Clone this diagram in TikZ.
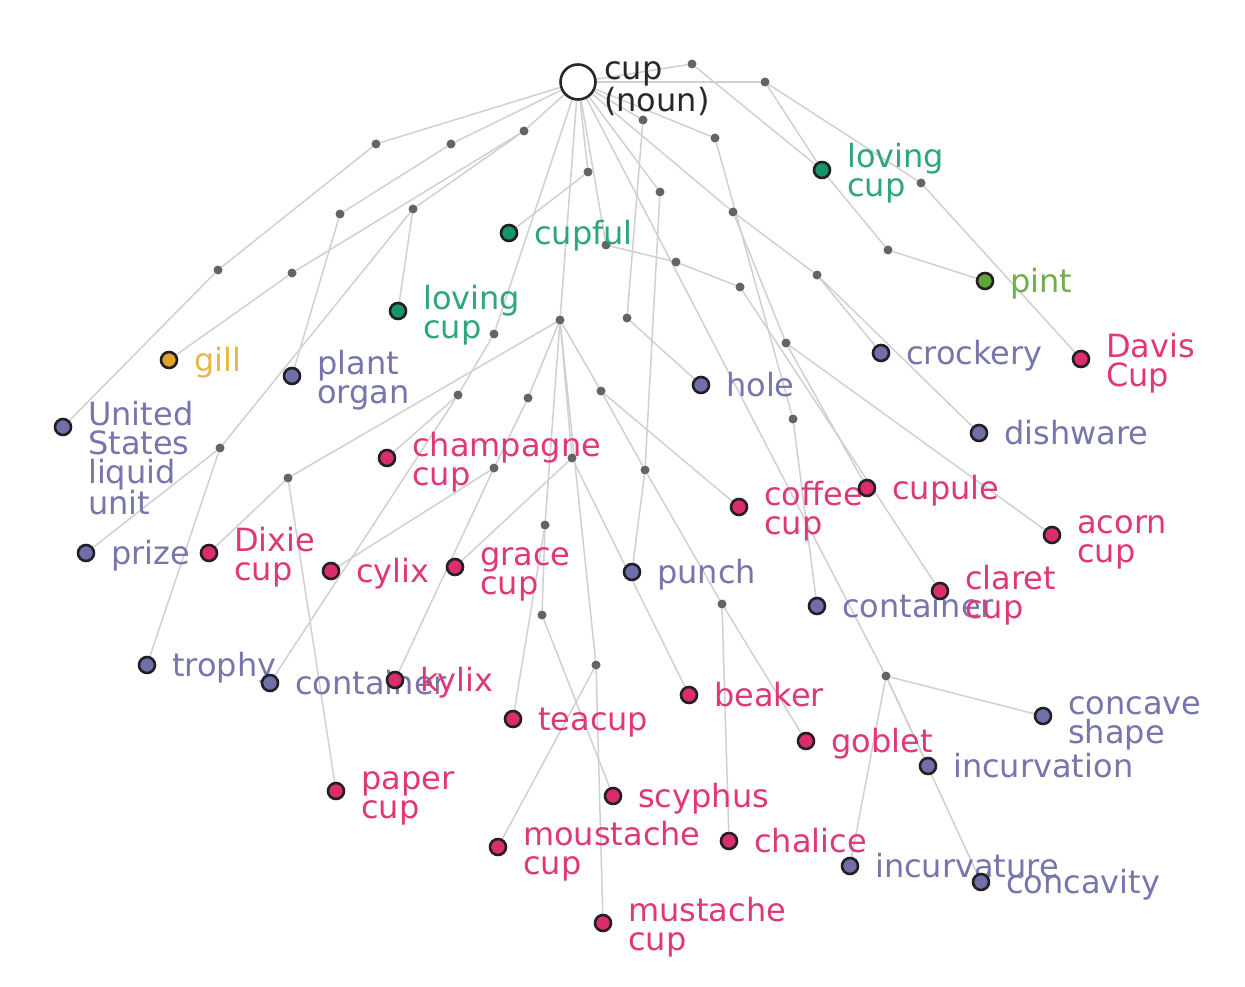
\documentclass[tikz,border=0pt]{standalone}
\usepackage{fontspec}
\setmainfont{DejaVu Sans}
\usetikzlibrary{backgrounds}
\definecolor{edgec}{RGB}{208,208,208}
\definecolor{gdotc}{RGB}{100,100,100}
\definecolor{rimc}{RGB}{35,30,40}
\definecolor{rootc}{RGB}{40,40,40}
\definecolor{pkfill}{RGB}{218,45,105}
\definecolor{pktext}{RGB}{224,55,120}
\definecolor{pufill}{RGB}{112,112,168}
\definecolor{putext}{RGB}{118,118,172}
\definecolor{grfill}{RGB}{22,150,100}
\definecolor{grtext}{RGB}{45,165,125}
\definecolor{lgfill}{RGB}{95,165,60}
\definecolor{lgtext}{RGB}{110,175,75}
\definecolor{ylfill}{RGB}{222,165,40}
\definecolor{yltext}{RGB}{232,182,70}
\newcommand\twol[2]{\vtop{\hbox{#1}\hbox{#2}}}
\newcommand\fourl[4]{\vtop{\hbox{#1}\hbox{#2}\hbox{#3}\hbox{#4}}}
% single-line word: name, x, y, colour key, text
\newcommand\wone[5]{%
  \node[wdot, fill=#4fill] (#1) at (#2,#3) {};
  \node[lab, text=#4text] (#1-l) at (#2+25,#3+11) {#5};}
% multi-line word
\newcommand\wmul[5]{%
  \node[wdot, fill=#4fill] (#1) at (#2,#3) {};
  \node[lab, text=#4text] (#1-l) at (#2+25,#3-2) {#5};}
\begin{document}
\begin{tikzpicture}[x=1pt,y=-1pt,
  gdot/.style={circle, fill=gdotc, minimum size=9pt, inner sep=0pt},
  wdot/.style={circle, draw=rimc, line width=2.6pt, minimum size=16pt, inner sep=0pt},
  lab/.style={anchor=base west, inner sep=0pt, font={\fontsize{32}{29}\selectfont}},
  edge/.style={draw=edgec, line width=1.5pt}]
\useasboundingbox (0,0) rectangle (1245,987);

% root
\node[circle, draw=rootc, line width=2.6pt, minimum size=35pt, inner sep=0pt] (root) at (578,82) {};
\node[lab, text=rootc] (root-l) at (604,80) {\twol{cup}{(noun)}};

% gray junction dots
\node[gdot] (g1) at (692,64) {};
\node[gdot] (g2) at (765,82) {};
\node[gdot] (g3) at (643,120) {};
\node[gdot] (g4) at (715,138) {};
\node[gdot] (g5) at (376,144) {};
\node[gdot] (g6) at (451,144) {};
\node[gdot] (g7) at (524,131) {};
\node[gdot] (g8) at (588,172) {};
\node[gdot] (g9) at (660,192) {};
\node[gdot] (g10) at (733,212) {};
\node[gdot] (g11) at (340,214) {};
\node[gdot] (g12) at (413,209) {};
\node[gdot] (g13) at (606,245) {};
\node[gdot] (g14) at (676,262) {};
\node[gdot] (g15) at (740,287) {};
\node[gdot] (g16) at (888,250) {};
\node[gdot] (g17) at (921,183) {};
\node[gdot] (g18) at (817,275) {};
\node[gdot] (g19) at (218,270) {};
\node[gdot] (g20) at (292,273) {};
\node[gdot] (g21) at (494,334) {};
\node[gdot] (g22) at (560,320) {};
\node[gdot] (g23) at (627,318) {};
\node[gdot] (g24) at (458,395) {};
\node[gdot] (g25) at (528,398) {};
\node[gdot] (g26) at (601,391) {};
\node[gdot] (g27) at (786,343) {};
\node[gdot] (g28) at (793,419) {};
\node[gdot] (g29) at (220,448) {};
\node[gdot] (g30) at (288,478) {};
\node[gdot] (g31) at (494,468) {};
\node[gdot] (g32) at (572,458) {};
\node[gdot] (g33) at (645,470) {};
\node[gdot] (g34) at (545,525) {};
\node[gdot] (g35) at (542,615) {};
\node[gdot] (g36) at (596,665) {};
\node[gdot] (g37) at (722,604) {};
\node[gdot] (g38) at (886,676) {};

% word nodes
\wmul{lcA}{822}{170}{gr}{\twol{loving}{cup}}
\wone{cupful}{509}{233}{gr}{cupful}
\wmul{lcB}{398}{311}{gr}{\twol{loving}{cup}}
\wone{pint}{985}{281}{lg}{pint}
\wone{gill}{169}{360}{yl}{gill}
\wmul{plant}{292}{376}{pu}{\twol{plant}{organ}}
\wmul{us}{63}{427}{pu}{\fourl{United}{States}{liquid}{unit}}
\wone{crock}{881}{353}{pu}{crockery}
\wmul{davis}{1081}{359}{pk}{\twol{Davis}{Cup}}
\wone{hole}{701}{385}{pu}{hole}
\wone{dish}{979}{433}{pu}{dishware}
\wmul{champ}{387}{458}{pk}{\twol{champagne}{cup}}
\wmul{coffee}{739}{507}{pk}{\twol{coffee}{cup}}
\wone{cupule}{867}{488}{pk}{cupule}
\wmul{acorn}{1052}{535}{pk}{\twol{acorn}{cup}}
\wone{prize}{86}{553}{pu}{prize}
\wmul{dixie}{209}{553}{pk}{\twol{Dixie}{cup}}
\wone{cylix}{331}{571}{pk}{cylix}
\wmul{grace}{455}{567}{pk}{\twol{grace}{cup}}
\wone{punch}{632}{572}{pu}{punch}
\wone{contA}{817}{606}{pu}{container}
\wmul{claret}{940}{591}{pk}{\twol{claret}{cup}}
\wone{trophy}{147}{665}{pu}{trophy}
\wone{contB}{270}{683}{pu}{container}
\wone{kylix}{395}{680}{pk}{kylix}
\wone{beaker}{689}{695}{pk}{beaker}
\wone{teacup}{513}{719}{pk}{teacup}
\wmul{concave}{1043}{716}{pu}{\twol{concave}{shape}}
\wone{goblet}{806}{741}{pk}{goblet}
\wone{incurvation}{928}{766}{pu}{incurvation}
\wmul{paper}{336}{791}{pk}{\twol{paper}{cup}}
\wone{scyphus}{613}{796}{pk}{scyphus}
\wmul{moust}{498}{847}{pk}{\twol{moustache}{cup}}
\wone{chalice}{729}{841}{pk}{chalice}
\wone{incurvature}{850}{866}{pu}{incurvature}
\wone{concavity}{981}{882}{pu}{concavity}
\wmul{must}{603}{923}{pk}{\twol{mustache}{cup}}

\begin{scope}[on background layer]
\foreach \a/\b in {root/g1, root/g2, root/g3, root/g4, root/g5, root/g6, root/g7,
  root/g8, root/g9, root/g10, root/g13, root/g21, root/g22, root/g38,
  g1/lcA, lcA/g16, g16/pint, g2/lcA, g2/g17, g17/davis,
  g3/g23, g23/hole, g4/g28, g28/contA,
  g10/g27, g27/cupule, g27/acorn, g10/g18, g18/crock, g18/dish,
  g13/g14, g14/g15, g15/claret,
  g5/g19, g19/us, g6/g11, g11/plant, g7/g20, g20/gill,
  g7/g12, g12/lcB, g12/g29, g29/prize, g29/trophy,
  g8/cupful, g21/g24, g24/champ, g24/contB,
  g22/g25, g22/g26, g22/g30, g22/g32, g22/g34, g22/g36,
  g25/g31, g31/cylix, g31/kylix, g30/dixie, g30/paper,
  g32/grace, g32/beaker, g34/teacup, g34/g35, g35/scyphus,
  g36/must, g36/moust,
  g26/coffee, g26/g33, g9/g33, g33/punch, g33/g37, g37/chalice, g37/goblet,
  g38/concave, g38/incurvation, g38/concavity, g38/incurvature}
  \draw[edge] (\a) -- (\b);
\end{scope}
\end{tikzpicture}
\end{document}
